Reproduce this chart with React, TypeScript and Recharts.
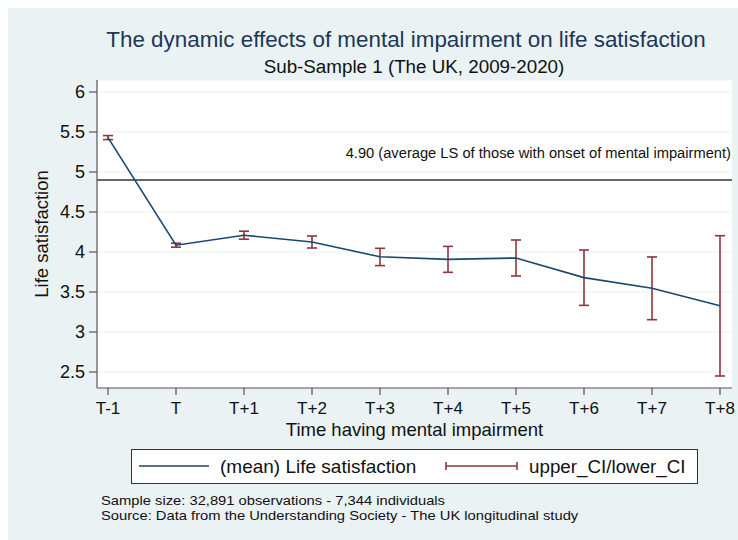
import React from 'react';
import {
  LineChart,
  Line,
  XAxis,
  YAxis,
  CartesianGrid,
  ReferenceLine,
  ErrorBar,
} from 'recharts';

// Time relative to onset of mental impairment
const periods = ['T-1', 'T', 'T+1', 'T+2', 'T+3', 'T+4', 'T+5', 'T+6', 'T+7', 'T+8'];
// Mean life satisfaction per period
const meanLS = [5.43, 4.085, 4.21, 4.125, 3.94, 3.908, 3.925, 3.68, 3.546, 3.327];
// Confidence interval bounds
const upperCI = [5.455, 4.11, 4.26, 4.2, 4.046, 4.07, 4.15, 4.025, 3.938, 4.204];
const lowerCI = [5.405, 4.06, 4.16, 4.05, 3.83, 3.746, 3.7, 3.333, 3.154, 2.45];
// Average LS of those with onset of mental impairment
const averageLS = 4.9;
const yTicks = [2.5, 3, 3.5, 4, 4.5, 5, 5.5, 6];

const data = periods.map((period, i) => ({
  period,
  mean: meanLS[i],
  ci: [meanLS[i] - lowerCI[i], upperCI[i] - meanLS[i]],
}));

const FONT = '"Liberation Sans", Arial, Helvetica, sans-serif';
const BG = '#EAF2F3';
const NAVY = '#1a476f';
const MAROON = '#90353B';
const INK = '#111111';

const W = 730;
const H = 532;

const RefLabel = (p: any) => {
  const vb = p.viewBox || {};
  return (
    <text
      x={vb.x + vb.width - 1}
      y={vb.y - 22}
      textAnchor="end"
      fontFamily={FONT}
      fontSize={14.7}
      fill={INK}
    >
      {averageLS.toFixed(2)} (average LS of those with onset of mental impairment)
    </text>
  );
};

const XTitle = (p: any) => {
  const vb = p.viewBox || {};
  return (
    <text
      x={vb.x + vb.width / 2}
      y={427.5}
      textAnchor="middle"
      fontFamily={FONT}
      fontSize={18.5}
      fill={INK}
    >
      Time having mental impairment
    </text>
  );
};

const YTitle = (p: any) => {
  const vb = p.viewBox || {};
  const cx = 40;
  const cy = vb.y + vb.height / 2;
  return (
    <text
      x={cx}
      y={cy}
      transform={`rotate(-90, ${cx}, ${cy})`}
      textAnchor="middle"
      fontFamily={FONT}
      fontSize={18.5}
      fill={INK}
    >
      Life satisfaction
    </text>
  );
};

export default function App() {
  return (
    <div
      style={{ position: 'absolute', left: 8, top: 8, width: W, height: H, background: BG }}
    >
      <LineChart
        width={W}
        height={H}
        data={data}
        margin={{ top: 72, right: 6, bottom: 102, left: 0 }}
        style={{ position: 'absolute', left: 0, top: 0 }}
      >
        <CartesianGrid vertical={false} stroke={BG} strokeWidth={1.2} fill="#ffffff" />
        <XAxis
          dataKey="period"
          padding={{ left: 11, right: 12 }}
          height={50}
          tickSize={7}
          tickMargin={7}
          interval={0}
          axisLine={{ stroke: '#555', strokeWidth: 1.2 }}
          tickLine={{ stroke: '#555', strokeWidth: 1.2 }}
          tick={{ fill: INK, fontSize: 17, fontFamily: FONT }}
          label={XTitle}
        />
        <YAxis
          type="number"
          width={89}
          domain={[2.3, 6.15]}
          ticks={yTicks}
          interval={0}
          allowDataOverflow
          tickSize={8}
          tickMargin={4}
          axisLine={{ stroke: '#555', strokeWidth: 1.2 }}
          tickLine={{ stroke: '#555', strokeWidth: 1.2 }}
          tick={{ fill: INK, fontSize: 18, fontFamily: FONT }}
          label={YTitle}
        />
        <ReferenceLine y={averageLS} stroke="#333" strokeWidth={1.3} label={RefLabel} />
        <Line
          type="linear"
          dataKey="mean"
          stroke={NAVY}
          strokeWidth={1.6}
          dot={false}
          isAnimationActive={false}
        >
          <ErrorBar
            dataKey="ci"
            direction="y"
            width={5}
            stroke={MAROON}
            strokeWidth={1.6}
            isAnimationActive={false}
          />
        </Line>
      </LineChart>

      <svg
        width={W}
        height={H}
        style={{ position: 'absolute', left: 0, top: 0, pointerEvents: 'none' }}
      >
        <text x={398} y={39} textAnchor="middle" fontFamily={FONT} fontSize={22.4} fill="#1c3857">
          The dynamic effects of mental impairment on life satisfaction
        </text>
        <text x={406} y={65} textAnchor="middle" fontFamily={FONT} fontSize={18.8} fill={INK}>
          Sub-Sample 1 (The UK, 2009-2020)
        </text>

        {/* legend */}
        <rect x={123.5} y={441.5} width={566} height={34} fill="#ffffff" stroke="#333" strokeWidth={1} />
        <line x1={131} y1={458} x2={201} y2={458} stroke={NAVY} strokeWidth={1.6} />
        <text x={212} y={464.5} fontFamily={FONT} fontSize={19} fill={INK}>
          (mean) Life satisfaction
        </text>
        <g stroke={MAROON} strokeWidth={1.6}>
          <line x1={438} y1={458} x2={509} y2={458} />
          <line x1={438} y1={454} x2={438} y2={462} />
          <line x1={509} y1={454} x2={509} y2={462} />
        </g>
        <text x={521} y={464.5} fontFamily={FONT} fontSize={18.8} fill={INK}>
          upper_CI/lower_CI
        </text>

        {/* notes, set in a slightly widened face */}
        <g transform="translate(93, 0) scale(1.18, 1)">
          <text x={0} y={497.5} fontFamily={FONT} fontSize={12.5} fill={INK}>
            Sample size: 32,891 observations - 7,344 individuals
          </text>
          <text x={0} y={511.8} fontFamily={FONT} fontSize={12.5} fill={INK}>
            Source: Data from the Understanding Society - The UK longitudinal study
          </text>
        </g>
      </svg>
    </div>
  );
}
